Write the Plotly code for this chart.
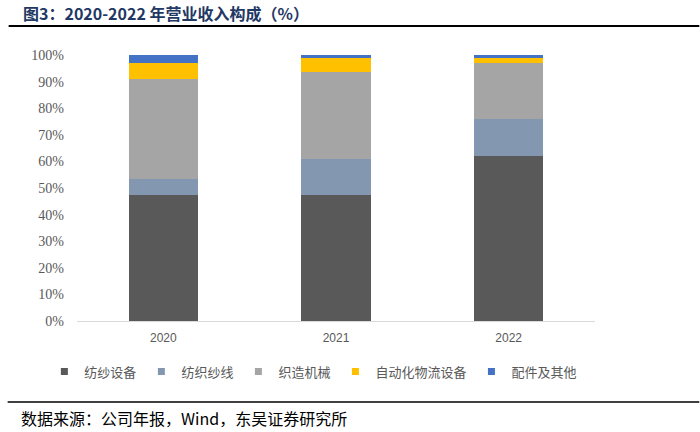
import plotly.graph_objects as go

years = ["2020", "2021", "2022"]
series_names = ["纺纱设备", "纺织纱线", "织造机械", "自动化物流设备", "配件及其他"]
spinning = [47.4, 47.4, 61.9]
yarn = [6.0, 13.5, 13.9]
weaving = [37.5, 32.8, 21.2]
logistics = [6.2, 5.0, 1.9]
parts = [2.9, 1.3, 1.1]
colors = ["#595959", "#8497B0", "#A5A5A5", "#FFC000", "#4472C4"]
y_ticks = [0, 10, 20, 30, 40, 50, 60, 70, 80, 90, 100]
y_tick_labels = [f"{v}%" for v in y_ticks]

values = [spinning, yarn, weaving, logistics, parts]

fig = go.Figure()
for name, vals, col in zip(series_names, values, colors):
    fig.add_trace(go.Bar(x=years, y=vals, name=name, marker=dict(color=col, line=dict(width=0)),
                         width=0.4, showlegend=False))
# legend proxies with small square markers
for name, col in zip(series_names, colors):
    fig.add_trace(go.Scatter(x=[None], y=[None], mode="markers", name=name,
                             marker=dict(symbol="square", size=7, color=col)))

fig.update_layout(
    width=700, height=432,
    barmode="stack",
    plot_bgcolor="white", paper_bgcolor="white",
    margin=dict(l=76.5, r=104.5, t=55, b=111),
    bargap=0.6,
    xaxis=dict(type="category", showline=True, linecolor="#D9D9D9", linewidth=1,
               ticks="", tickfont=dict(family="Liberation Sans, Arial", size=12, color="#595959"),
               showgrid=False, zeroline=False, ticklabelstandoff=6),
    yaxis=dict(range=[0, 100], tickvals=y_ticks, ticktext=y_tick_labels, showgrid=False,
               zeroline=False, showline=False, ticks="",
               tickfont=dict(family="Liberation Serif, Times New Roman", size=14, color="#595959"),
               ticklabelstandoff=12),
    legend=dict(orientation="h", x=-0.063, xanchor="left", y=-0.19, yanchor="middle",
                traceorder="normal",
                font=dict(family="Noto Sans CJK SC", size=13, color="#595959"),
                bgcolor="rgba(0,0,0,0)", itemclick=False),
    font=dict(family="Noto Sans CJK SC"),
)

fig.add_annotation(text="<b>图3：2020-2022 年营业收入构成（%）</b>", xref="paper", yref="paper",
                   x=(20 - 76.5) / 519, y=(266 + 55 - 13) / 266, xanchor="left", yanchor="middle",
                   showarrow=False, font=dict(family="Noto Sans CJK SC", size=16, color="#1F3864"))
fig.add_annotation(text="数据来源：公司年报，Wind，东吴证券研究所", xref="paper", yref="paper",
                   x=(18 - 76.5) / 519, y=(321 - 418) / 266, xanchor="left", yanchor="middle",
                   showarrow=False, font=dict(family="Noto Sans CJK SC", size=16, color="#000000"))
fig.add_shape(type="line", xref="paper", yref="paper",
              x0=(8 - 76.5) / 519, x1=(700 - 76.5) / 519, y0=(321 - 26) / 266, y1=(321 - 26) / 266,
              line=dict(color="#000000", width=2))
fig.add_shape(type="line", xref="paper", yref="paper",
              x0=(7 - 76.5) / 519, x1=(700 - 76.5) / 519, y0=(321 - 402) / 266, y1=(321 - 402) / 266,
              line=dict(color="#000000", width=1.5))

fig.write_html("out.html", config={"displayModeBar": False},
               post_script="document.body.style.margin='0';document.body.style.overflow='hidden';")
